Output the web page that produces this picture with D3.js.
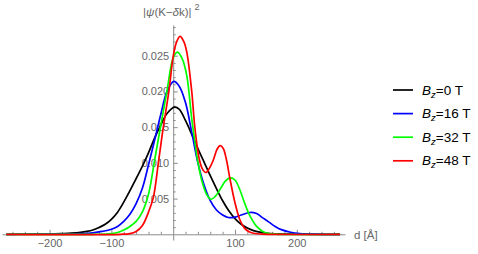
<!DOCTYPE html>
<html>
<head>
<meta charset="utf-8">
<script src="https://cdn.jsdelivr.net/npm/d3@7"></script>
<style>
  body { margin: 0; background: #fff; }
  svg { display: block; font-family: "Liberation Sans", Arial, sans-serif; }
</style>
</head>
<body>
<svg width="478" height="254"></svg>
<script>
// |psi|^2 curves, as [d (Angstrom), value]
const bz0 = [[-270,0],[-230,0.00001],[-200,0.00004],[-180,0.0001],[-165,0.00016],[-150,0.00027],[-140,0.0004],[-130,0.0006],[-120,0.00095],[-110,0.0014],[-100,0.0021],[-90,0.0031],[-80,0.0045],[-70,0.0061],[-60,0.0078],[-50,0.0095],[-40,0.0114],[-30,0.0135],[-20,0.0153],[-10,0.0169],[2,0.0178],[10,0.0175],[20,0.0159],[30,0.0140],[40,0.0120],[50,0.0101],[60,0.0082],[70,0.0064],[80,0.0047],[90,0.0033],[100,0.0022],[110,0.0014],[120,0.00088],[130,0.00052],[140,0.0003],[150,0.00016],[165,0.00006],[190,0.00001],[270,0]];
const bz16 = [[-270,0],[-200,0.00001],[-170,0.00003],[-150,0.00008],[-130,0.0002],[-115,0.0004],[-100,0.0007],[-90,0.0011],[-80,0.0018],[-70,0.0028],[-60,0.0043],[-50,0.0064],[-40,0.0097],[-30,0.0132],[-20,0.0168],[-10,0.0200],[1,0.0214],[10,0.0207],[20,0.0184],[30,0.0143],[40,0.0100],[50,0.0069],[60,0.0047],[70,0.0034],[80,0.0027],[89,0.00235],[100,0.0024],[110,0.0027],[124,0.00305],[135,0.0029],[145,0.0023],[155,0.0017],[165,0.0011],[175,0.00065],[190,0.00028],[205,0.0001],[225,0.00002],[270,0]];
const bz32 = [[-270,0],[-130,0],[-110,0.00003],[-100,0.0001],[-90,0.00025],[-80,0.0006],[-70,0.0011],[-60,0.0018],[-50,0.0031],[-40,0.0056],[-30,0.0104],[-20,0.0153],[-10,0.0201],[0,0.0247],[7,0.0255],[15,0.0245],[22,0.0222],[30,0.0162],[35,0.0130],[40,0.0101],[46,0.0076],[54,0.0056],[61,0.0049],[68,0.0053],[76,0.0063],[84,0.0074],[92,0.0079],[100,0.0076],[108,0.0062],[115,0.0045],[124,0.0026],[135,0.0011],[145,0.0004],[155,0.0001],[170,0],[270,0]];
const bz48 = [[-270,0],[-85,0],[-70,0.0001],[-60,0.0004],[-50,0.0012],[-40,0.0031],[-32,0.0052],[-24,0.0100],[-16,0.015],[-7,0.020],[0,0.0249],[5,0.0268],[11,0.0277],[17,0.0270],[22,0.0255],[30,0.0200],[35,0.0150],[42,0.0106],[47,0.0092],[53,0.00865],[59,0.0093],[65,0.0104],[71,0.0119],[76,0.0124],[81,0.0120],[86,0.0105],[92,0.0077],[100,0.0044],[108,0.0020],[115,0.0009],[122,0.0004],[130,0.00015],[145,0.00002],[270,0]];

const seriesNames = ["0", "16", "32", "48"];
const seriesColors = ["#000000", "#0000ff", "#00ff00", "#ff0000"];
const seriesData = [bz0, bz16, bz32, bz48];

const xMajor = [-200, -100, 100, 200];
const xMinor = d3.range(-260, 261, 20).filter(v => v % 100 !== 0);
const yMajor = [0.005, 0.010, 0.015, 0.020, 0.025];
const yMinor = d3.range(1, 30).map(i => i / 1000).filter(v => Math.round(v * 1000) % 5 !== 0);

const svg = d3.select("svg");
const axisColor = "#8c8c8c";
const labelColor = "#666";

const x = d3.scaleLinear().domain([-277, 278]).range([2, 345]);
const y = d3.scaleLinear().domain([-0.0008, 0.0293]).range([240, 25]);

// x axis: ticks point up into the plot
const xAxisG = svg.append("g").attr("transform", `translate(0,${y(0)})`);
xAxisG.call(d3.axisBottom(x).tickValues(xMinor).tickSize(-2.5).tickSizeOuter(0).tickFormat(""));
xAxisG.append("g").call(d3.axisBottom(x).tickValues(xMajor).tickSize(-4.5).tickSizeOuter(0).tickPadding(5).tickFormat(d => d3.format("d")(d).replace("-", "\u2212")))
  .select(".domain").remove();

// y axis: ticks point right
const yAxisG = svg.append("g").attr("transform", `translate(${x(0)},0)`);
yAxisG.call(d3.axisLeft(y).tickValues(yMinor).tickSize(-2.5).tickSizeOuter(0).tickFormat(""));
yAxisG.append("g").call(d3.axisLeft(y).tickValues(yMajor).tickSize(-4.5).tickSizeOuter(0).tickPadding(4).tickFormat(d3.format(".3f")))
  .select(".domain").remove();

svg.selectAll(".domain, .tick line").attr("stroke", axisColor);
svg.selectAll(".tick text").attr("fill", labelColor).attr("font-size", 11).attr("font-family", "Liberation Sans, Arial, sans-serif");

// axis titles
const yTitle = svg.append("text")
  .attr("x", 143).attr("y", 16)
  .attr("font-size", 11.5).attr("fill", labelColor);
yTitle.append("tspan").text("|");
yTitle.append("tspan").attr("font-style", "italic").text("\u03c8");
yTitle.append("tspan").text("(K\u2212");
yTitle.append("tspan").attr("font-style", "italic").text("\u03b4");
yTitle.append("tspan").text("k)|");
yTitle.append("tspan").attr("dy", -6).attr("dx", 3).attr("font-size", 9).text("2");

svg.append("text")
  .attr("x", 354).attr("y", 239)
  .attr("font-size", 11.5).attr("fill", labelColor)
  .text("d [\u00c5]");

// curves
const line = d3.line()
  .x(d => x(d[0]))
  .y(d => y(Math.max(0, d[1])))
  .curve(d3.curveCatmullRom.alpha(0.5));

svg.append("g").selectAll("path")
  .data(seriesData)
  .enter()
  .append("path")
  .attr("d", line)
  .attr("fill", "none")
  .attr("stroke", (d, i) => seriesColors[i])
  .attr("stroke-width", 1.7);

// legend
const legend = svg.append("g").attr("transform", "translate(393,90)");
const rows = legend.selectAll("g")
  .data(seriesNames)
  .enter()
  .append("g")
  .attr("transform", (d, i) => `translate(0,${i * 23.6})`);
rows.append("line")
  .attr("x1", 0).attr("x2", 20)
  .attr("stroke", (d, i) => seriesColors[i])
  .attr("stroke-width", 1.7);
const lt = rows.append("text")
  .attr("x", 29).attr("y", 4.5)
  .attr("font-size", 13.5).attr("fill", "#000");
lt.append("tspan").attr("font-style", "italic").text("B");
lt.append("tspan").attr("font-style", "italic").attr("font-size", 9.5).attr("dy", 3).text("z");
lt.append("tspan").attr("dy", -3).text(d => `=${d} T`);
</script>
</body>
</html>
